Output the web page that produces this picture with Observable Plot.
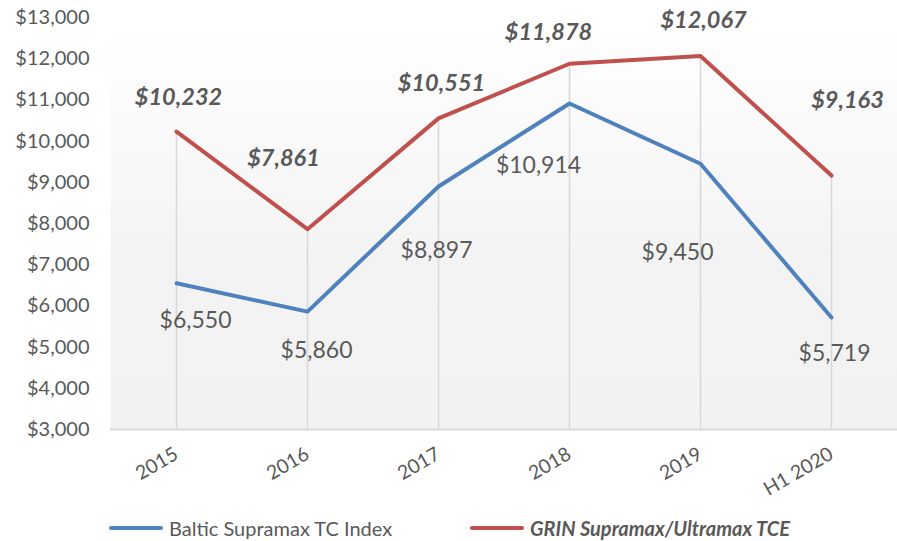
<!DOCTYPE html>
<html>
<head>
<meta charset="utf-8">
<script src="https://cdn.jsdelivr.net/npm/d3@7"></script>
<script src="https://cdn.jsdelivr.net/npm/@observablehq/plot@0.6"></script>
<style>
  body { margin: 0; background: #fff; font-family: Lato, "Open Sans", sans-serif; }
  #wrap { width: 897px; position: relative; }
  #legend { position: relative; height: 24px; width: 897px; color: #595959; font-size: 20px; margin-top: 7px; }
  .item { position: absolute; top: 0; display: flex; align-items: center; white-space: nowrap; line-height: 24px; }
  .swatch { width: 54px; height: 4px; border-radius: 2px; margin-right: 6px; }
</style>
</head>
<body>
<div id="wrap"></div>
<script>
const categories = ["2015", "2016", "2017", "2018", "2019", "H1 2020"];
const balticValues = [6550, 5860, 8897, 10914, 9450, 5719];
const grinValues = [10232, 7861, 10551, 11878, 12067, 9163];
const yTicks = [3000, 4000, 5000, 6000, 7000, 8000, 9000, 10000, 11000, 12000, 13000];
const seriesNames = ["Baltic Supramax TC Index", "GRIN Supramax/Ultramax TCE"];
const colors = ["#4F81BD", "#C0504D"];

const baltic = categories.map((c, i) => ({cat: c, value: balticValues[i]}));
const grin = categories.map((c, i) => ({cat: c, value: grinValues[i]}));
const drops = categories.map((c, i) => ({cat: c, top: Math.max(balticValues[i], grinValues[i])}));

const fmt = d3.format("$,");
const textColor = "#595959";

// label nudges (dx, dy) mimicking the hand-placed labels
const grinNudge = [[2, -34], [-24, -71], [3, -35], [-21, -31], [3, -35], [16, -75]];
const balticNudge = [[19, 37], [9, 39], [-2, 64], [-31, 62], [-23, 89], [3, 36]];

const grinLabels = grin.map((d, i) => Plot.text([d], {
  x: "cat", y: "value", text: d => fmt(d.value),
  dx: grinNudge[i][0], dy: grinNudge[i][1],
  fill: textColor, fontSize: 23.5, fontWeight: "bold", fontStyle: "italic"
}));
const balticLabels = baltic.map((d, i) => Plot.text([d], {
  x: "cat", y: "value", text: d => fmt(d.value),
  dx: balticNudge[i][0], dy: balticNudge[i][1],
  fill: textColor, fontSize: 23
}));

const chart = Plot.plot({
  width: 897,
  height: 509,
  marginLeft: 110,
  marginRight: 0,
  marginTop: 17,
  marginBottom: 80,
  style: { fontFamily: "Lato, 'Open Sans', sans-serif", color: textColor, background: "transparent" },
  x: { type: "point", domain: categories, padding: 0.5, label: null },
  y: { domain: [3000, 13000], label: null },
  marks: [
    Plot.frame({ fill: "url(#bggrad)", stroke: null }),
    Plot.ruleX(drops, { x: "cat", y1: 3000, y2: "top", stroke: "#d9d9d9", strokeWidth: 1.6 }),
    Plot.ruleY([3000], { stroke: "#d9d9d9", strokeWidth: 2 }),
    Plot.axisY(yTicks, { tickSize: 0, tickPadding: 21, tickFormat: fmt, fontSize: 20, fill: textColor }),
    Plot.axisX({ tickSize: 0, tickPadding: 23, tickRotate: -30, fontSize: 19.5, fill: textColor }),
    Plot.line(baltic, { x: "cat", y: "value", stroke: colors[0], strokeWidth: 4, strokeLinecap: "round", strokeLinejoin: "round" }),
    Plot.line(grin, { x: "cat", y: "value", stroke: colors[1], strokeWidth: 4, strokeLinecap: "round", strokeLinejoin: "round" }),
    ...balticLabels,
    ...grinLabels
  ]
});

const svg = d3.select(chart);
const defs = svg.insert("defs", ":first-child");
const g = defs.append("linearGradient").attr("id", "bggrad").attr("x1", 0).attr("y1", 0).attr("x2", 0).attr("y2", 1);
g.append("stop").attr("offset", "0%").attr("stop-color", "#ffffff");
g.append("stop").attr("offset", "60%").attr("stop-color", "#f3f3f3");
g.append("stop").attr("offset", "100%").attr("stop-color", "#f2f2f2");

document.getElementById("wrap").appendChild(chart);

const legend = document.createElement("div");
legend.id = "legend";
const lefts = [109, 470];
seriesNames.forEach((name, i) => {
  const item = document.createElement("div");
  item.className = "item";
  item.style.left = lefts[i] + "px";
  const sw = document.createElement("div");
  sw.className = "swatch";
  sw.style.background = colors[i];
  const t = document.createElement("span");
  t.textContent = name;
  if (i === 1) { t.style.fontWeight = "bold"; t.style.fontStyle = "italic"; }
  item.appendChild(sw);
  item.appendChild(t);
  legend.appendChild(item);
});
document.getElementById("wrap").appendChild(legend);
</script>
</body>
</html>
